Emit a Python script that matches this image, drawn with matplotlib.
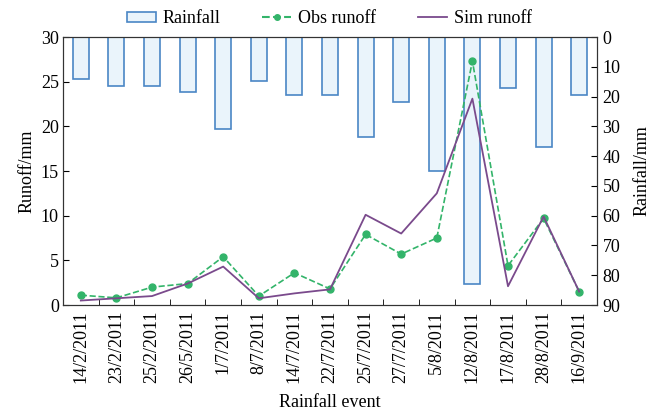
import matplotlib
matplotlib.use("Agg")
import matplotlib.pyplot as plt
import numpy as np
from matplotlib.patches import Patch
from matplotlib.lines import Line2D

events = ["14/2/2011", "23/2/2011", "25/2/2011", "26/5/2011", "1/7/2011", "8/7/2011",
          "14/7/2011", "22/7/2011", "25/7/2011", "27/7/2011", "5/8/2011", "12/8/2011",
          "17/8/2011", "28/8/2011", "16/9/2011"]
rainfall = [14.0, 16.6, 16.6, 18.6, 31.0, 14.9, 19.4, 19.4, 33.5, 21.7, 44.9, 82.9, 17.2, 36.8, 19.4]
obs_runoff = [1.1, 0.8, 2.0, 2.4, 5.4, 1.0, 3.6, 1.8, 7.9, 5.7, 7.5, 27.3, 4.4, 9.7, 1.5]
sim_runoff = [0.5, 0.75, 1.0, 2.4, 4.3, 0.75, 1.3, 1.75, 10.1, 8.0, 12.5, 23.1, 2.1, 9.9, 1.5]

plt.rcParams['font.family'] = ['Liberation Serif', 'DejaVu Serif']
plt.rcParams['font.size'] = 13

fig = plt.figure(figsize=(6.59, 4.17), dpi=100)
ax1 = fig.add_axes([63 / 659, 1 - 305 / 417, (597 - 63) / 659, (305 - 37) / 417])
ax2 = ax1.twinx()

x = np.arange(len(events))
bar_color = '#4a86c5'
obs_color = '#33b46a'
sim_color = '#7a4a8c'
spine_color = '#333333'

ax2.bar(x, rainfall, width=0.45, facecolor='#eaf4fb', edgecolor=bar_color, linewidth=1.2)
ax2.set_ylim(90, 0)
ax2.set_yticks(np.arange(0, 91, 10))
ax2.set_ylabel("Rainfall/mm", labelpad=9)

ax1.set_zorder(ax2.get_zorder() + 1)
ax1.patch.set_visible(False)
ax1.plot(x, obs_runoff, color=obs_color, linestyle='--', linewidth=1.2,
         marker='o', markersize=5, markerfacecolor=obs_color, markeredgecolor=obs_color)
ax1.plot(x, sim_runoff, color=sim_color, linestyle='-', linewidth=1.3)
ax1.set_ylim(0, 30)
ax1.set_yticks(np.arange(0, 31, 5))
ax1.set_ylabel("Runoff/mm", labelpad=4)
ax1.set_xlim(-0.5, len(events) - 0.5)
ax1.set_xticks(x)
ax1.set_xticklabels(events, rotation=90)
ax1.set_xticks(np.arange(0.5, len(events) - 0.5, 1), minor=True)
ax1.tick_params(axis='x', which='major', length=0, pad=4)
ax1.tick_params(axis='x', which='minor', direction='in', length=4)
ax1.tick_params(axis='y', direction='in', length=4, pad=3)
ax2.tick_params(axis='y', direction='in', length=4, pad=4)
ax1.set_xlabel("Rainfall event", labelpad=8)
for ax in (ax1, ax2):
    for s in ax.spines.values():
        s.set_color(spine_color)

handles = [Patch(facecolor='#eaf4fb', edgecolor=bar_color, linewidth=1.2),
           Line2D([], [], color=obs_color, linestyle='--', marker='o', markersize=4),
           Line2D([], [], color=sim_color, linestyle='-', linewidth=1.3)]
fig.legend(handles, ["Rainfall", "Obs runoff", "Sim runoff"], loc='center',
           bbox_to_anchor=(0.5, 0.955), ncol=3, frameon=False, handlelength=1.6,
           handleheight=0.5, columnspacing=2.3, handletextpad=0.4, fontsize=13)

fig.savefig("out.png", dpi=100)
